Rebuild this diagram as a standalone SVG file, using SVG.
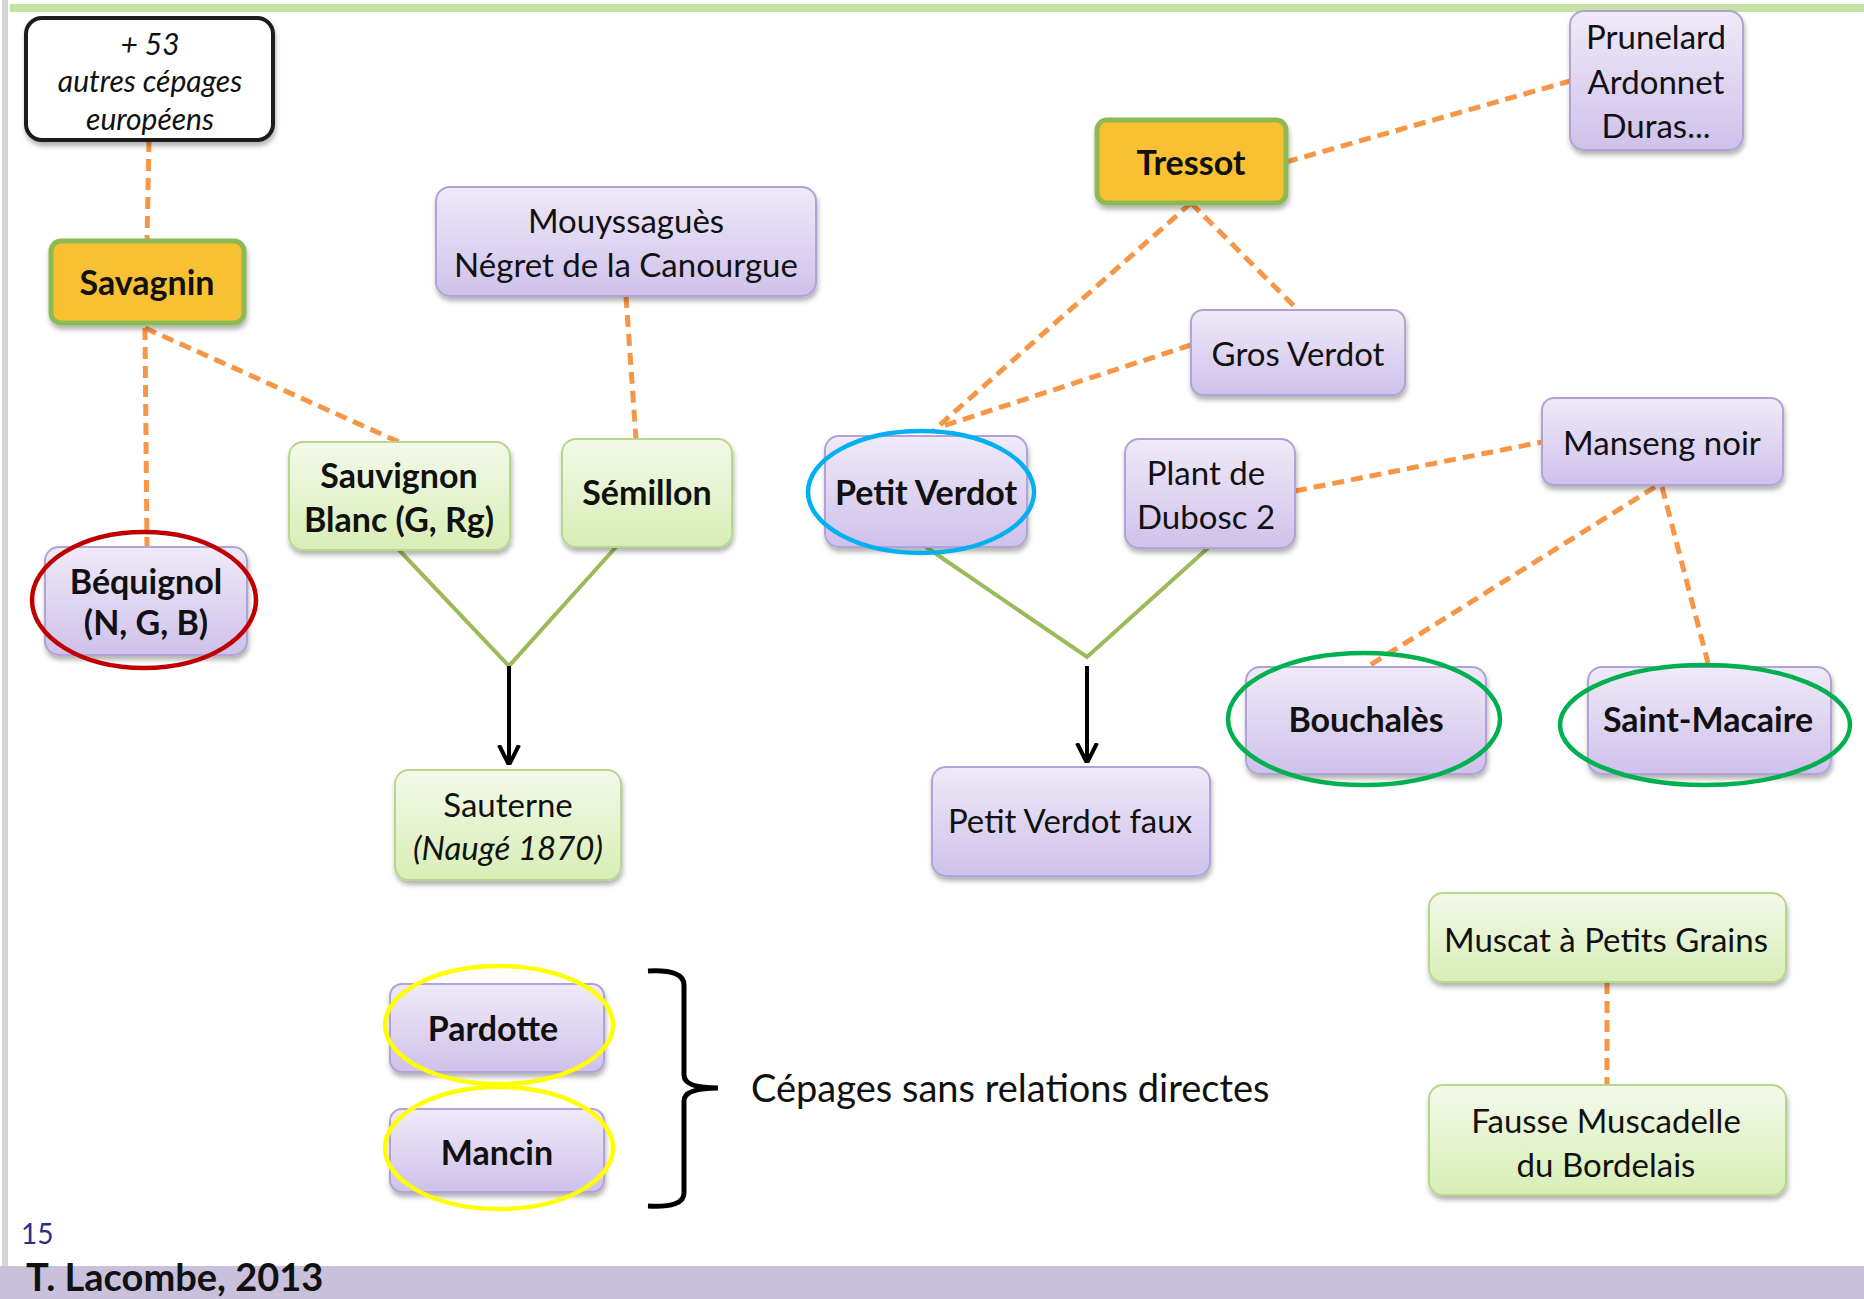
<svg xmlns="http://www.w3.org/2000/svg" width="1864" height="1299" viewBox="0 0 1864 1299">
<defs>
<linearGradient id="gp" x1="0" y1="0" x2="0" y2="1"><stop offset="0" stop-color="#efeaf8"/><stop offset="1" stop-color="#cfc1eb"/></linearGradient>
<linearGradient id="gg" x1="0" y1="0" x2="0" y2="1"><stop offset="0" stop-color="#f3f9ea"/><stop offset="1" stop-color="#d8eeb5"/></linearGradient>
<filter id="sh" x="-10%" y="-10%" width="120%" height="130%"><feDropShadow dx="1" dy="4" stdDeviation="2.5" flood-color="#000" flood-opacity="0.3"/></filter>
<marker id="arr" viewBox="0 0 10 10" refX="9" refY="5" markerWidth="5" markerHeight="6" orient="auto" markerUnits="strokeWidth"><path d="M0,0 L10,5 L0,10" fill="none" stroke="#000" stroke-width="2"/></marker>
</defs>
<style>
text{font-family:Lato,"Liberation Sans",sans-serif;fill:#111;font-size:33px;text-anchor:middle}
.b{font-weight:bold;font-size:34px}
.i{font-style:italic}
.p{fill:url(#gp);stroke:#b2a2d6;stroke-width:2}
.g{fill:url(#gg);stroke:#b7d78c;stroke-width:2}
.o{fill:#f8c031;stroke:#8cba53;stroke-width:5}
.w{fill:#fff;stroke:#1a1a1a;stroke-width:4}
.node rect{filter:url(#sh)}
.d{fill:none;stroke:#f79646;stroke-width:5;stroke-dasharray:12 7}
.gl{fill:none;stroke:#9bbb59;stroke-width:4}
.ar{fill:none;stroke:#000;stroke-width:4;marker-end:url(#arr)}
.el{fill:none;stroke-width:4.5}
.sm{font-size:30px}
</style>
<rect x="0" y="0" width="1864" height="1299" fill="#fff"/>
<rect x="10" y="4" width="1854" height="8" fill="#c6e3a6"/>
<rect x="2" y="0" width="6" height="1266" fill="#d6d6d6"/>
<rect x="0" y="1266" width="1864" height="33" fill="#c9c0dc"/>

<g id="connectors">
<line class="d" x1="149" y1="140" x2="147" y2="241"/>
<line class="d" x1="145" y1="328" x2="147" y2="547"/>
<line class="d" x1="145" y1="328" x2="399" y2="442"/>
<line class="d" x1="626" y1="296" x2="636" y2="439"/>
<line class="d" x1="1191" y1="203" x2="934" y2="430"/>
<line class="d" x1="1191" y1="203" x2="1298" y2="310"/>
<line class="d" x1="1191" y1="345" x2="940" y2="427"/>
<line class="d" x1="1286" y1="162" x2="1570" y2="81"/>
<line class="d" x1="1295" y1="491" x2="1542" y2="442"/>
<line class="d" x1="1655" y1="487" x2="1367" y2="667"/>
<line class="d" x1="1662" y1="487" x2="1708" y2="663"/>
<line class="d" x1="1607" y1="982" x2="1607" y2="1085"/>
<polyline class="gl" points="399,550 509,666 616,547"/>
<polyline class="gl" points="926,547 1087,657 1208,548"/>
<line class="ar" x1="509" y1="666" x2="509" y2="763"/>
<line class="ar" x1="1087" y1="666" x2="1087" y2="761"/>
<path d="M648,971 Q684,969 684,985 L684,1075 Q684,1088 718,1088 Q684,1088 684,1101 L684,1193 Q684,1208 648,1206" fill="none" stroke="#000" stroke-width="5"/>
</g>

<g id="n-plus53" class="node"><rect class="w" x="26" y="18" width="247" height="122" rx="16"/>
<text class="i sm" x="150" y="55">+ 53</text>
<text class="i sm" x="150" y="92">autres cépages</text>
<text class="i sm" x="150" y="130">européens</text></g>

<g id="n-savagnin" class="node"><rect class="o" x="51" y="241" width="193" height="82" rx="10"/>
<text class="b" x="147" y="295">Savagnin</text></g>

<g id="n-mouyssagues" class="node"><rect class="p" x="436" y="187" width="380" height="109" rx="14"/>
<text x="626" y="233">Mouyssaguès</text>
<text x="626" y="277">Négret de la Canourgue</text></g>

<g id="n-sauvignon" class="node"><rect class="g" x="289" y="442" width="221" height="108" rx="14"/>
<text class="b" x="399" y="488">Sauvignon</text>
<text class="b" x="399" y="532">Blanc (G, Rg)</text></g>

<g id="n-semillon" class="node"><rect class="g" x="562" y="439" width="170" height="108" rx="14"/>
<text class="b" x="647" y="505">Sémillon</text></g>

<g id="n-bequignol" class="node"><rect class="p" x="45" y="547" width="202" height="108" rx="14"/>
<text class="b" x="146" y="594">Béquignol</text>
<text class="b" x="146" y="635">(N, G, B)</text></g>

<g id="n-sauterne" class="node"><rect class="g" x="395" y="770" width="226" height="110" rx="14"/>
<text x="508" y="817">Sauterne</text>
<text class="i" x="508" y="860">(Naugé 1870)</text></g>

<g id="n-petitverdot" class="node"><rect class="p" x="825" y="436" width="202" height="111" rx="14"/>
<text class="b" x="926" y="505">Petit Verdot</text></g>

<g id="n-plantdedubosc" class="node"><rect class="p" x="1125" y="439" width="170" height="109" rx="14"/>
<text x="1206" y="485">Plant de</text>
<text x="1206" y="529">Dubosc 2</text></g>

<g id="n-petitverdotfaux" class="node"><rect class="p" x="932" y="767" width="278" height="109" rx="14"/>
<text x="1070" y="833">Petit Verdot faux</text></g>

<g id="n-tressot" class="node"><rect class="o" x="1097" y="120" width="189" height="83" rx="10"/>
<text class="b" x="1191" y="175">Tressot</text></g>

<g id="n-prunelard" class="node"><rect class="p" x="1570" y="11" width="173" height="139" rx="14"/>
<text x="1656" y="49">Prunelard</text>
<text x="1656" y="94">Ardonnet</text>
<text x="1656" y="138">Duras...</text></g>

<g id="n-grosverdot" class="node"><rect class="p" x="1191" y="310" width="214" height="85" rx="12"/>
<text x="1298" y="366">Gros Verdot</text></g>

<g id="n-mansengnoir" class="node"><rect class="p" x="1542" y="398" width="241" height="87" rx="12"/>
<text x="1662" y="455">Manseng noir</text></g>

<g id="n-bouchales" class="node"><rect class="p" x="1246" y="667" width="240" height="107" rx="14"/>
<text class="b" x="1366" y="732">Bouchalès</text></g>

<g id="n-saintmacaire" class="node"><rect class="p" x="1588" y="667" width="243" height="107" rx="14"/>
<text class="b" x="1708" y="732">Saint-Macaire</text></g>

<g id="n-muscat" class="node"><rect class="g" x="1429" y="893" width="357" height="89" rx="14"/>
<text x="1606" y="952">Muscat à Petits Grains</text></g>

<g id="n-fausse" class="node"><rect class="g" x="1429" y="1085" width="357" height="110" rx="14"/>
<text x="1606" y="1133">Fausse Muscadelle</text>
<text x="1606" y="1177">du Bordelais</text></g>

<g id="n-pardotte" class="node"><rect class="p" x="390" y="984" width="214" height="88" rx="12"/>
<text class="b" x="493" y="1041">Pardotte</text></g>

<g id="n-mancin" class="node"><rect class="p" x="390" y="1109" width="214" height="83" rx="12"/>
<text class="b" x="497" y="1165">Mancin</text></g>

<g id="highlights">
<ellipse class="el" stroke="#c00000" cx="144" cy="600" rx="112" ry="68"/>
<ellipse class="el" stroke="#00b0f0" cx="921" cy="492" rx="113" ry="61"/>
<ellipse class="el" stroke="#00b050" cx="1364" cy="719" rx="136" ry="66"/>
<ellipse class="el" stroke="#00b050" cx="1705" cy="725" rx="145" ry="60"/>
<ellipse class="el" stroke="#ffff00" cx="499" cy="1025" rx="114" ry="59"/>
<ellipse class="el" stroke="#ffff00" cx="499" cy="1148" rx="114" ry="61"/>
</g>

<text x="751" y="1102" style="text-anchor:start;font-size:38px">Cépages sans relations directes</text>
<text x="21" y="1244" style="text-anchor:start;font-size:28px;fill:#2a2f86">15</text>
<text class="b" x="26" y="1291" style="text-anchor:start;font-size:38px">T. Lacombe, 2013</text>
</svg>
